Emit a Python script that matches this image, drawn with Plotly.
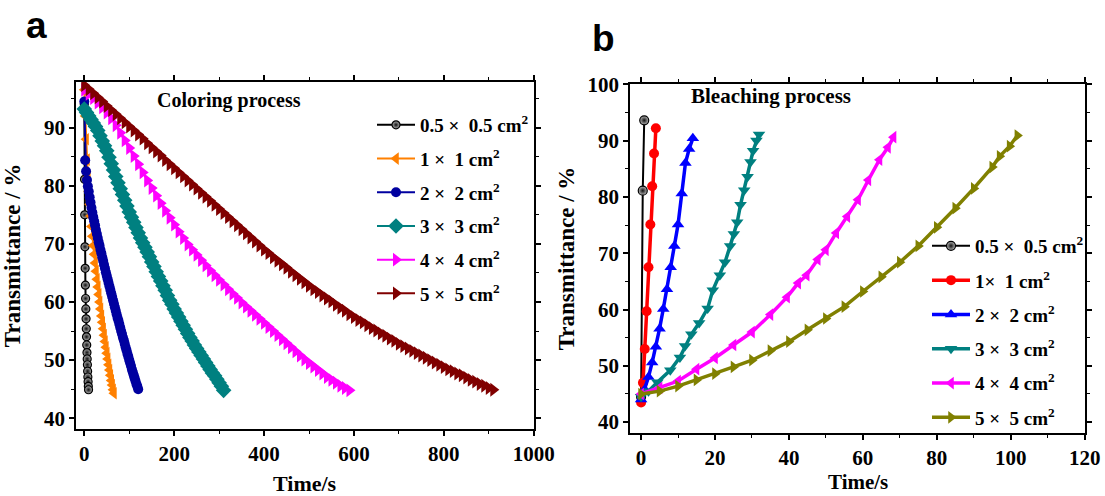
import plotly.graph_objects as go

# ---------------- Coloring process (panel a) ----------------
col_t_05 = [0, 0.5, 1, 1.5, 2, 2.5, 3, 3.5, 4, 4.5, 5, 5.5, 6, 6.5, 7, 7.5, 8, 8.5, 9, 9.5]
col_T_05 = [94.0, 81.1, 75.0, 69.5, 65.8, 62.9, 60.6, 58.8, 57.1, 55.4,
            54.0, 52.6, 51.3, 50.2, 49.2, 48.1, 47.1, 46.3, 45.5, 44.9]

col_t_1 = list(range(0, 67, 2))
col_T_1 = [96.5, 92.0, 88.0, 84.5, 81.5, 79.0, 76.8, 74.8, 73.0, 71.3,
           69.7, 68.2, 66.7, 65.3, 63.9, 62.6, 61.3, 60.0, 58.8, 57.6,
           56.5, 55.4, 54.3, 53.2, 52.2, 51.2, 50.2, 49.2, 48.3, 47.4,
           46.5, 45.7, 44.9, 44.3]

col_t_2 = list(range(0, 121, 2))
col_T_2 = [94.5, 84.4, 82.5, 81.0, 79.9, 79.0, 78.0, 77.1, 76.2, 75.4,
           74.6, 73.9, 73.2, 72.4, 71.7, 71.0, 70.3, 69.7, 69.0, 68.4,
           67.7, 67.1, 66.4, 65.8, 65.1, 64.5, 63.9, 63.3, 62.7, 62.1,
           61.5, 60.9, 60.3, 59.7, 59.1, 58.5, 57.9, 57.3, 56.8, 56.2,
           55.6, 55.0, 54.5, 53.9, 53.4, 52.8, 52.2, 51.7, 51.1, 50.6,
           50.0, 49.5, 49.0, 48.4, 47.9, 47.4, 46.9, 46.4, 45.9, 45.5,
           45.0]

col_t_3 = list(range(0, 311, 5))
col_T_3 = [93.2, 92.6, 92.0, 91.4, 90.8, 90.2, 89.5, 88.6, 87.7, 86.9,
           86.0, 84.9, 83.8, 82.7, 81.6, 80.5, 79.5, 78.5, 77.5, 76.5,
           75.5, 74.6, 73.7, 72.8, 71.9, 71.0, 70.2, 69.4, 68.6, 67.8,
           66.9, 66.1, 65.2, 64.4, 63.6, 62.8, 62.0, 61.1, 60.3, 59.6,
           58.8, 58.1, 57.4, 56.7, 56.0, 55.3, 54.6, 53.9, 53.3, 52.6,
           52.0, 51.4, 50.8, 50.2, 49.6, 49.0, 48.4, 47.8, 47.3, 46.7,
           46.1, 45.5, 44.8]

col_t_4 = list(range(0, 591, 10))
col_T_4 = [96.5, 95.8, 95.1, 94.3, 93.5, 92.6, 91.6, 90.4, 89.1, 87.8,
           86.5, 85.1, 83.7, 82.3, 80.9, 79.6, 78.3, 77.0, 75.7, 74.5,
           73.3, 72.1, 71.0, 69.9, 69.0, 68.1, 67.2, 66.3, 65.4, 64.6,
           63.8, 63.0, 62.2, 61.4, 60.7, 59.9, 59.2, 58.5, 57.8, 57.1,
           56.4, 55.7, 55.0, 54.3, 53.6, 52.9, 52.2, 51.5, 50.8, 50.1,
           49.5, 48.9, 48.3, 47.7, 47.1, 46.6, 46.1, 45.6, 45.2, 44.8]

col_t_5 = list(range(0, 911, 10))
col_T_5 = [97.3, 96.6, 95.9, 95.2, 94.5, 93.7, 93.0, 92.3, 91.6, 90.9,
           90.2, 89.5, 88.8, 88.1, 87.3, 86.6, 85.9, 85.2, 84.4, 83.7,
           83.0, 82.3, 81.6, 80.9, 80.2, 79.5, 78.8, 78.1, 77.4, 76.7,
           76.0, 75.3, 74.6, 73.9, 73.2, 72.5, 71.8, 71.1, 70.4, 69.7,
           69.0, 68.4, 67.7, 67.1, 66.5, 65.9, 65.2, 64.6, 64.0, 63.4,
           62.8, 62.2, 61.7, 61.1, 60.6, 60.1, 59.5, 59.0, 58.5, 57.9,
           57.4, 56.9, 56.5, 56.0, 55.5, 55.1, 54.6, 54.2, 53.7, 53.3,
           52.8, 52.4, 52.0, 51.6, 51.2, 50.8, 50.4, 50.0, 49.6, 49.2,
           48.8, 48.4, 48.1, 47.7, 47.4, 47.0, 46.6, 46.3, 45.9, 45.6,
           45.2, 44.9]

# ---------------- Bleaching process (panel b) ----------------
ble_t_05 = [0, 0.45, 0.85]
ble_T_05 = [44.5, 81.1, 93.6]

ble_t_1 = [0, 0.5, 1, 1.5, 2, 2.5, 3, 3.5, 4]
ble_T_1 = [43.5, 47.0, 53.0, 59.7, 67.5, 75.1, 81.9, 87.7, 92.2]

ble_t_2 = [0, 1, 2, 3, 4, 5, 6, 7, 8, 9, 10, 11, 12, 13, 14]
ble_T_2 = [44.0, 45.8, 48.0, 50.6, 53.4, 56.6, 60.1, 63.6, 67.5, 71.3,
           75.1, 80.6, 86.0, 88.5, 90.4]

ble_t_3 = [0, 2, 4.4, 7.9, 10.5, 11.9, 13.6, 15.7, 18.0, 19.4, 21.3,
           22.7, 24.1, 25.1, 26.0, 26.9, 27.9, 28.8, 29.6, 30.3, 31.2, 31.9]
ble_T_3 = [44.5, 45.5, 47.1, 49.2, 51.5, 53.5, 55.6, 57.6, 60.2, 63.4, 66.1,
           68.4, 71.3, 73.4, 75.5, 78.6, 81.2, 83.6, 86.2, 88.2, 90.0, 91.1]

ble_t_4 = [0, 5, 10, 15, 20, 25, 30, 35, 39.5, 42.5, 44.8, 47.8, 50,
           52.8, 55.8, 58.7, 61.5, 64.5, 66.8, 68.3]
ble_T_4 = [45.0, 46.1, 47.3, 49.4, 51.4, 53.7, 56.0, 59.1, 62.2, 64.7, 66.1,
           68.9, 70.6, 73.6, 76.5, 79.5, 83.0, 86.6, 88.8, 90.6]

ble_t_5 = [0, 5, 10, 15, 20, 25, 30, 35, 40, 45, 50, 55, 60, 65, 70, 75,
           80, 85, 90, 95, 97, 99.7, 101.8]
ble_T_5 = [45.0, 45.5, 46.4, 47.5, 48.6, 49.8, 51.0, 52.7, 54.3, 56.4, 58.4,
           60.5, 63.2, 65.8, 68.4, 71.3, 74.6, 78.0, 81.5, 85.3, 87.2, 89.0, 90.9]

col_names = ["0.5 ×  0.5 cm<sup>2</sup>", "1 ×  1 cm<sup>2</sup>", "2 ×  2 cm<sup>2</sup>",
             "3 ×  3 cm<sup>2</sup>", "4 ×  4 cm<sup>2</sup>", "5 ×  5 cm<sup>2</sup>"]
ble_names = ["0.5 ×  0.5 cm<sup>2</sup>", "1×  1 cm<sup>2</sup>", "2 ×  2 cm<sup>2</sup>",
             "3 ×  3 cm<sup>2</sup>", "4 ×  4 cm<sup>2</sup>", "5 ×  5 cm<sup>2</sup>"]

SERIF = "Liberation Serif, Times New Roman, serif"
SANS = "Liberation Sans, Arial, sans-serif"
W, H = 1105, 496

fig = go.Figure()


def add(x, y, name, color, symbol, size, lw, axes, legend, group, sphere=False):
    marker = dict(symbol=symbol, size=size, color=color, line=dict(width=0))
    if sphere:
        marker = dict(symbol=symbol, size=size, color="#b8b8b8",
                      gradient=dict(type="radial", color="#101010"),
                      line=dict(color="black", width=1.2))
    fig.add_trace(go.Scatter(
        x=x, y=y, name=name, mode="lines+markers",
        line=dict(color=color, width=lw), marker=marker,
        xaxis=axes[0], yaxis=axes[1], legend=legend, legendgroup=group))


# panel a
add(col_t_05, col_T_05, col_names[0], "black", "circle", 8, 2, ("x", "y"), "legend", "a0", sphere=True)
add(col_t_1, col_T_1, col_names[1], "#FF8000", "triangle-left", 11, 2, ("x", "y"), "legend", "a1")
add(col_t_2, col_T_2, col_names[2], "#0000A0", "circle", 10, 2, ("x", "y"), "legend", "a2")
add(col_t_3, col_T_3, col_names[3], "#008080", "diamond", 12, 2, ("x", "y"), "legend", "a3")
add(col_t_4, col_T_4, col_names[4], "#FF00FF", "triangle-right", 12, 2, ("x", "y"), "legend", "a4")
add(col_t_5, col_T_5, col_names[5], "#800000", "triangle-right", 12, 2, ("x", "y"), "legend", "a5")

# panel b
add(ble_t_05, ble_T_05, ble_names[0], "black", "circle", 9, 2, ("x2", "y2"), "legend2", "b0", sphere=True)
add(ble_t_1, ble_T_1, ble_names[1], "#FF0000", "circle", 10, 3.5, ("x2", "y2"), "legend2", "b1")
add(ble_t_2, ble_T_2, ble_names[2], "#0000FF", "triangle-up", 11, 3.5, ("x2", "y2"), "legend2", "b2")
add(ble_t_3, ble_T_3, ble_names[3], "#008080", "triangle-down", 11, 3.5, ("x2", "y2"), "legend2", "b3")
add(ble_t_4, ble_T_4, ble_names[4], "#FF00FF", "triangle-left", 11, 3.5, ("x2", "y2"), "legend2", "b4")
add(ble_t_5, ble_T_5, ble_names[5], "#808000", "triangle-right", 11, 3.5, ("x2", "y2"), "legend2", "b5")

tickfont = dict(family=SERIF, size=21, color="black", weight="bold")


def axis(domain, rng, dtick, minor, anchor, title=None):
    ax = dict(domain=domain, range=rng, dtick=dtick, tick0=0, anchor=anchor,
              showline=True, linecolor="black", linewidth=1.5, mirror="ticks",
              ticks="outside", ticklen=5, tickwidth=1.5, tickcolor="black",
              minor=dict(dtick=minor, ticks="outside", ticklen=3, tickwidth=1.2,
                         tickcolor="black", showgrid=False),
              showgrid=False, zeroline=False, automargin=False,
              tickfont=tickfont)
    if title:
        ax["title"] = dict(text=title,
                           font=dict(family=SERIF, size=23, color="black", weight="bold"))
    return ax


legend_font = dict(family=SERIF, size=19, color="black", weight="bold")


def label(text, x, y, size, family=SERIF, yanchor="middle"):
    return dict(text=text, x=x / W, y=1 - y / H, xref="paper", yref="paper",
                showarrow=False, xanchor="center", yanchor=yanchor,
                font=dict(family=family, size=size, color="black", weight="bold"))


fig.update_layout(
    width=W, height=H, template="none",
    margin=dict(l=0, r=0, t=0, b=0),
    paper_bgcolor="white", plot_bgcolor="white",
    xaxis=axis([76 / W, 534 / W], [-18.4, 1000.5], 200, 100, "y"),
    yaxis=axis([1 - 429 / H, 1 - 81.7 / H], [38.15, 97.9], 10, 5, "x", "Transmittance / %"),
    xaxis2=axis([630 / W, 1085 / W], [-3, 120.1], 20, 10, "y2"),
    yaxis2=axis([1 - 433 / H, 1 - 84 / H], [38.07, 100.05], 10, 5, "x2", "Transmittance / %"),
    legend=dict(x=372 / W, y=1 - 106 / H, xanchor="left", yanchor="top", itemwidth=38,
                bgcolor="rgba(0,0,0,0)", tracegroupgap=6, font=legend_font),
    legend2=dict(x=927 / W, y=1 - 227 / H, xanchor="left", yanchor="top", itemwidth=38,
                 bgcolor="rgba(0,0,0,0)", tracegroupgap=6.6, font=legend_font),
    annotations=[
        label("a", 36, 25, 37, SANS),
        label("b", 604, 39, 37, SANS),
        label("Coloring process", 229, 100, 20),
        label("Bleaching process", 771, 96, 21),
        label("Time/s", 305, 483, 22),
        label("Time/s", 858, 496, 21, yanchor="bottom"),
    ],
)

fig.write_html("out.html")
